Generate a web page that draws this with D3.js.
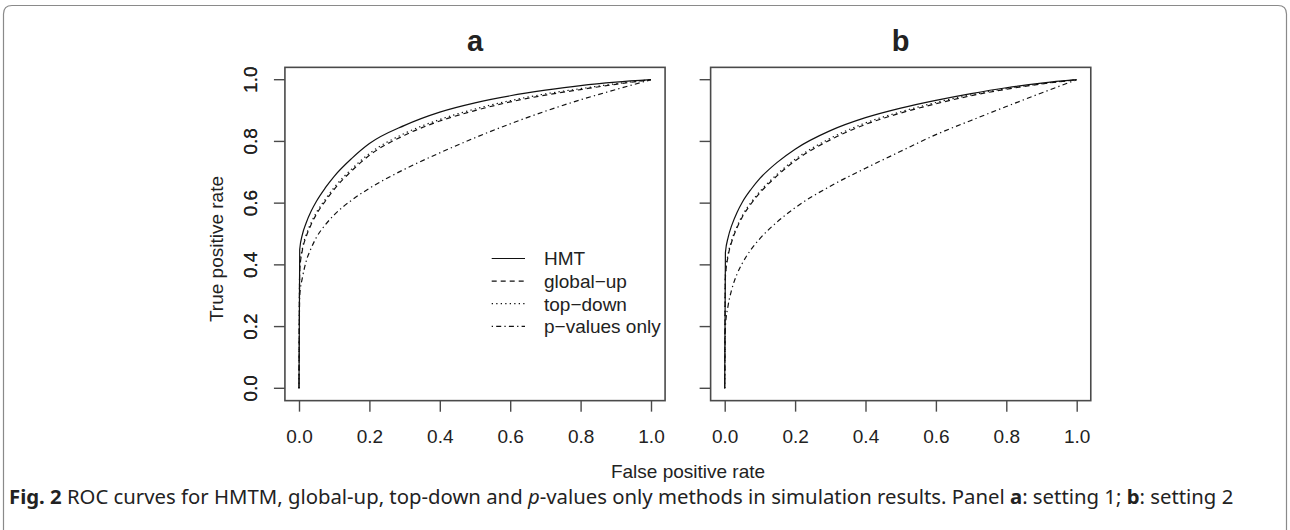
<!DOCTYPE html>
<html>
<head>
<meta charset="utf-8">
<script src="https://cdn.jsdelivr.net/npm/d3@7"></script>
<style>
  body { margin: 0; background: #fff; }
  text { font-family: "Liberation Sans", Arial, Helvetica, sans-serif; fill: #222; }
  text.cap { font-family: "Noto Sans", "Open Sans", sans-serif; }
</style>
</head>
<body>
<svg width="1290" height="530"></svg>
<script>
  // false positive rate grid shared by every curve
  const fpr = [0, 0.002, 0.01, 0.02, 0.035, 0.05, 0.075, 0.1, 0.15, 0.2, 0.3, 0.4, 0.5, 0.6, 0.7, 0.8, 0.9, 1.0];

  // panel a: setting 1
  const hmtA    = [0, 0.45, 0.50, 0.535, 0.575, 0.607, 0.65, 0.687, 0.745, 0.793, 0.852, 0.895, 0.925, 0.948, 0.966, 0.981, 0.992, 1];
  const globalA = [0, 0.38, 0.45, 0.49, 0.532, 0.565, 0.607, 0.645, 0.705, 0.755, 0.82, 0.866, 0.90, 0.928, 0.95, 0.968, 0.985, 1];
  const topA    = [0, 0.39, 0.456, 0.496, 0.538, 0.571, 0.613, 0.651, 0.711, 0.761, 0.826, 0.871, 0.905, 0.932, 0.954, 0.971, 0.987, 1];
  const pvalA   = [0, 0.30, 0.36, 0.41, 0.455, 0.49, 0.53, 0.562, 0.61, 0.648, 0.71, 0.763, 0.812, 0.857, 0.898, 0.935, 0.968, 1];

  // panel b: setting 2
  const hmtB    = [0, 0.44, 0.49, 0.528, 0.57, 0.603, 0.645, 0.68, 0.733, 0.775, 0.835, 0.877, 0.908, 0.933, 0.955, 0.974, 0.989, 1];
  const globalB = [0, 0.36, 0.43, 0.475, 0.52, 0.555, 0.598, 0.633, 0.69, 0.737, 0.805, 0.855, 0.892, 0.922, 0.948, 0.969, 0.986, 1];
  const topB    = [0, 0.37, 0.436, 0.48, 0.525, 0.56, 0.603, 0.638, 0.695, 0.742, 0.81, 0.86, 0.896, 0.926, 0.951, 0.971, 0.987, 1];
  const pvalB   = [0, 0.20, 0.27, 0.32, 0.37, 0.405, 0.45, 0.485, 0.54, 0.585, 0.655, 0.713, 0.768, 0.822, 0.868, 0.913, 0.957, 1];

  const methods = ["HMT", "global\u2212up", "top\u2212down", "p\u2212values only"];
  const dashes = [null, "5,4", "1.3,3.2", "1.3,3.2,5,3.2"];
  const ticks = [0, 0.2, 0.4, 0.6, 0.8, 1.0];
  const panelTitles = ["a", "b"];

  const svg = d3.select("svg");
  svg.append("rect").attr("width", 1290).attr("height", 530).attr("fill", "#fff");

  // outer figure frame
  svg.append("path")
    .attr("d", "M3.5,530 V14 Q3.5,5.5 12,5.5 H1278 Q1286.5,5.5 1286.5,14 V530")
    .attr("fill", "none").attr("stroke", "#8a8a8a").attr("stroke-width", 1.2);

  const y = d3.scaleLinear().domain([0, 1]).range([388.3, 79.7]);
  const panels = [
    {title: panelTitles[0], x: d3.scaleLinear().domain([0, 1]).range([299, 651]), series: [hmtA, globalA, topA, pvalA], legend: true},
    {title: panelTitles[1], x: d3.scaleLinear().domain([0, 1]).range([724.7, 1076.7]), series: [hmtB, globalB, topB, pvalB], legend: false}
  ];

  panels.forEach(p => {
    const g = svg.append("g");
    const [x0, x1] = p.x.range();
    const padX = (x1 - x0) * 0.04, padY = (y(0) - y(1)) * 0.04;
    const left = x0 - padX, right = x1 + padX, top = y(1) - padY, bottom = y(0) + padY;

    p.series.forEach((vals, i) => {
      const line = d3.line()
        .x((d, j) => p.x(fpr[j]))
        .y(d => y(d))
        .curve(d3.curveMonotoneX);
      g.append("path")
        .attr("d", line(vals))
        .attr("fill", "none")
        .attr("stroke", "#111")
        .attr("stroke-width", 1.2)
        .attr("stroke-dasharray", dashes[i]);
    });

    g.append("rect")
      .attr("x", left).attr("y", top)
      .attr("width", right - left).attr("height", bottom - top)
      .attr("fill", "none").attr("stroke", "#4a4a4a").attr("stroke-width", 1.6);

    const xa = g.append("g")
      .attr("transform", `translate(0,${bottom})`)
      .call(d3.axisBottom(p.x).tickValues(ticks).tickFormat(d3.format(".1f")).tickSize(11).tickSizeOuter(0).tickPadding(17.5));
    xa.select(".domain").remove();
    xa.selectAll("line").attr("stroke", "#4a4a4a").attr("stroke-width", 1.4);
    xa.selectAll("text").attr("font-size", 19).attr("fill", "#222")
      .style("font-family", "'Liberation Sans', Arial, sans-serif");

    g.selectAll(".ytick").data(ticks).enter().append("line")
      .attr("x1", left - 11).attr("x2", left)
      .attr("y1", d => y(d)).attr("y2", d => y(d))
      .attr("stroke", "#4a4a4a").attr("stroke-width", 1.4);
    g.selectAll(".ylab").data(ticks).enter().append("text")
      .attr("transform", d => `translate(257,${y(d)}) rotate(-90)`)
      .attr("text-anchor", "middle").attr("font-size", 19)
      .text(d3.format(".1f"));

    g.append("text")
      .attr("x", (left + right) / 2).attr("y", 51)
      .attr("text-anchor", "middle").attr("font-size", 29).attr("font-weight", "bold")
      .attr("fill", "#111")
      .text(p.title);

    if (p.legend) {
      const lg = g.append("g");
      methods.forEach((m, i) => {
        const ly = 258.5 + i * 22.6;
        lg.append("line")
          .attr("x1", 491.7).attr("x2", 525).attr("y1", ly).attr("y2", ly)
          .attr("stroke", "#111").attr("stroke-width", 1.2)
          .attr("stroke-dasharray", dashes[i]);
        lg.append("text")
          .attr("x", 544).attr("y", ly + 6.8)
          .attr("font-size", 19)
          .text(m);
      });
    }
  });

  // shared axis titles
  svg.append("text")
    .attr("x", 688).attr("y", 477.5)
    .attr("text-anchor", "middle").attr("font-size", 19)
    .text("False positive rate");
  svg.append("text")
    .attr("transform", "translate(222.5,249) rotate(-90)")
    .attr("text-anchor", "middle").attr("font-size", 19)
    .text("True positive rate");

  // caption, sized to span the same width as the original
  const cap = svg.append("text").attr("class", "cap")
    .attr("x", 9).attr("y", 504).attr("font-size", 16).attr("fill", "#1a1a1a");
  const parts = [
    ["Fig. 2", "bold", "normal"],
    [" ROC curves for HMTM, global-up, top-down and ", "normal", "normal"],
    ["p", "normal", "italic"],
    ["-values only methods in simulation results. Panel ", "normal", "normal"],
    ["a", "bold", "normal"],
    [": setting 1; ", "normal", "normal"],
    ["b", "bold", "normal"],
    [": setting 2", "normal", "normal"]
  ];
  parts.forEach(([t, w, s]) => {
    cap.append("tspan").attr("font-weight", w).attr("font-style", s).text(t);
  });
  const capLen = cap.node().getComputedTextLength();
  cap.attr("font-size", 16 * 1225 / capLen);
</script>
</body>
</html>
